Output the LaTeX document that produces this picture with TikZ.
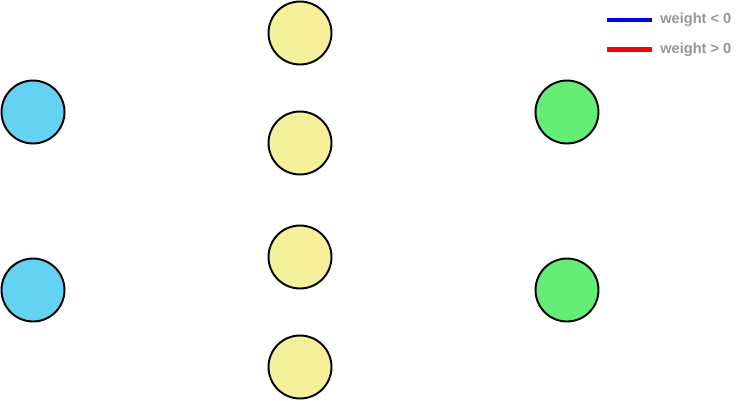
\documentclass[tikz,border=0pt]{standalone}
\usepackage{fontspec}
\newfontfamily\legendfont{Liberation Sans}
\usetikzlibrary{positioning}
\definecolor{inblue}{RGB}{100,211,242}
\definecolor{hidyellow}{RGB}{245,241,155}
\definecolor{outgreen}{RGB}{100,238,118}
\definecolor{legendgray}{RGB}{150,150,150}
\tikzset{
  neuron/.style={circle, draw=black, line width=1.1pt, minimum size=1.26cm, inner sep=0pt},
  legendline/.style={line width=2.6pt},
  legendtext/.style={anchor=west, inner sep=0pt, text=legendgray, font=\legendfont\bfseries\fontsize{8.3}{10}\selectfont}
}
\begin{document}
\begin{tikzpicture}[x=0.02cm, y=-0.02cm]
        \useasboundingbox (0,0) rectangle (750,400);
        % input layer
        \node [neuron, fill=inblue] (in1) at (33,112) {};
        \node [neuron, fill=inblue] (in2) at (33,290) {};
        % hidden layer
        \node [neuron, fill=hidyellow] (h1) at (300,33) {};
        \node [neuron, fill=hidyellow] (h2) at (300,143) {};
        \node [neuron, fill=hidyellow] (h3) at (300,257) {};
        \node [neuron, fill=hidyellow] (h4) at (300,367) {};
        % output layer
        \node [neuron, fill=outgreen] (out1) at (567,112) {};
        \node [neuron, fill=outgreen] (out2) at (567,290) {};
        % legend
        \coordinate (negA) at (607,20);
        \coordinate (negB) at (652,20);
        \coordinate (posA) at (607,49.5);
        \coordinate (posB) at (652,49.5);
        \draw [legendline, blue] (negA) -- (negB);
        \draw [legendline, red] (posA) -- (posB);
        \node [legendtext, right=8 of negB] (negtext) {weight < 0};
        \node [legendtext, right=8 of posB] (postext) {weight > 0};
\end{tikzpicture}
\end{document}
